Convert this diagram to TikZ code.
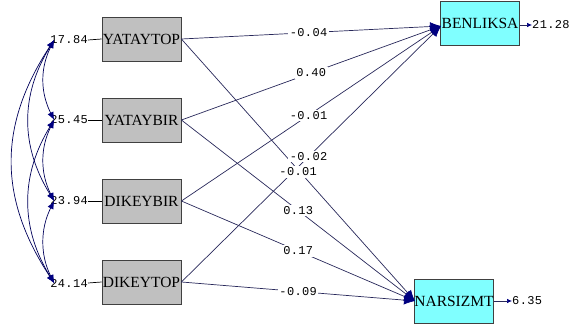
\documentclass[tikz,border=0pt]{standalone}
\usepackage{fontspec}
\setmainfont{Liberation Serif}
\newfontfamily\numfont[LetterSpace=3]{Liberation Mono}
\usetikzlibrary{arrows.meta}
\definecolor{boxgray}{RGB}{192,192,192}
\definecolor{boxcyan}{RGB}{128,255,255}
\definecolor{linecol}{RGB}{40,40,90}
\definecolor{headcol}{RGB}{0,0,128}
\tikzset{
 obs/.style={draw=black!75, line width=0.8pt, minimum width=79pt, minimum height=44pt, inner sep=0pt, font=\fontsize{15.5}{17}\selectfont},
 exo/.style={obs, fill=boxgray},
 endo/.style={obs, fill=boxcyan},
 num/.style={font=\numfont\fontsize{12}{14}\selectfont, inner sep=0pt},
 lbl/.style={num, fill=white, inner sep=1.5pt},
 pathline/.style={draw=linecol, line width=0.7pt},
 bigtip/.style={pathline, -{Latex[length=11pt,width=9pt,color=headcol]}},
 errtip/.style={pathline, -{Latex[length=5pt,width=4.5pt,color=headcol]}},
 covar/.style={draw=headcol!70!black, line width=0.7pt, {Latex[length=8pt,width=6.5pt,color=headcol]}-{Latex[length=8pt,width=6.5pt,color=headcol]}}
}
\begin{document}
\begin{tikzpicture}[x=1pt,y=-1pt]
\useasboundingbox (0,0) rectangle (570,329);
% boxes
\node[exo] (yt) at (141.5,39) {YATAYTOP};
\node[exo] (yb) at (141.5,120) {YATAYBIR};
\node[exo] (db) at (141.5,201) {DIKEYBIR};
\node[exo] (dt) at (141.5,282) {DIKEYTOP};
\node[endo] (ben) at (480,23) {BENLIKSA};
\node[endo] (nar) at (454,301) {NARSIZMT};
% variances
\node[num, anchor=east] (v1) at (88,40) {17.84};
\node[num, anchor=east] (v2) at (88,120) {25.45};
\node[num, anchor=east] (v3) at (88,201) {23.94};
\node[num, anchor=east] (v4) at (88,283) {24.14};
\foreach \i/\b in {1/yt,2/yb,3/db,4/dt}{\draw[pathline, draw=black] (v\i.east) -- (\b.west);}
\coordinate (c1) at ([xshift=4pt]v1.west);
\coordinate (c2) at ([xshift=4pt]v2.west);
\coordinate (c3) at ([xshift=4pt]v3.west);
\coordinate (c4) at ([xshift=4pt]v4.west);
% covariances
\draw[covar] (c1) .. controls +(-14,28) and +(-14,-28) .. (c2);
\draw[covar] (c2) .. controls +(-14,28) and +(-14,-28) .. (c3);
\draw[covar] (c3) .. controls +(-14,28) and +(-14,-28) .. (c4);
\draw[covar] (c1) .. controls +(-34,55) and +(-34,-55) .. (c3);
\draw[covar] (c2) .. controls +(-34,55) and +(-34,-55) .. (c4);
\draw[covar] (c1) .. controls +(-56,85) and +(-56,-85) .. (c4);
% errors
\node[num, anchor=west] (e1) at (532,25) {21.28};
\node[num, anchor=west] (e2) at (512,301) {6.35};
\draw[errtip] (ben.east |- e1) -- (e1.west);
\draw[errtip] (nar.east |- e2) -- (e2.west);
% paths
\coordinate (bin) at (441,26);
\coordinate (nin) at (415,301);
\draw[bigtip] (yt.east) -- (bin);
\draw[bigtip] (yb.east) -- (bin);
\draw[bigtip] (db.east) -- (bin);
\draw[bigtip] (dt.east) -- (bin);
\draw[bigtip] (yt.east) -- (nin);
\draw[bigtip] (yb.east) -- (nin);
\draw[bigtip] (db.east) -- (nin);
\draw[bigtip] (dt.east) -- (nin);
% labels
\path (yt.east) -- node[lbl, pos=0.49] (l1) {-0.04} (bin);
\path (yb.east) -- node[lbl, pos=0.5] (l2) {0.40} (bin);
\path (db.east) -- node[lbl, pos=0.49] (l3) {-0.01} (bin);
\path (dt.east) -- node[lbl, pos=0.49] (l4) {-0.02} (bin);
\path (yt.east) -- node[lbl, pos=0.5, yshift=-2pt] (l5) {-0.01} (nin);
\path (yb.east) -- node[lbl, pos=0.5] (l6) {0.13} (nin);
\path (db.east) -- node[lbl, pos=0.5] (l7) {0.17} (nin);
\path (dt.east) -- node[lbl, pos=0.5] (l8) {-0.09} (nin);
\end{tikzpicture}
\end{document}
